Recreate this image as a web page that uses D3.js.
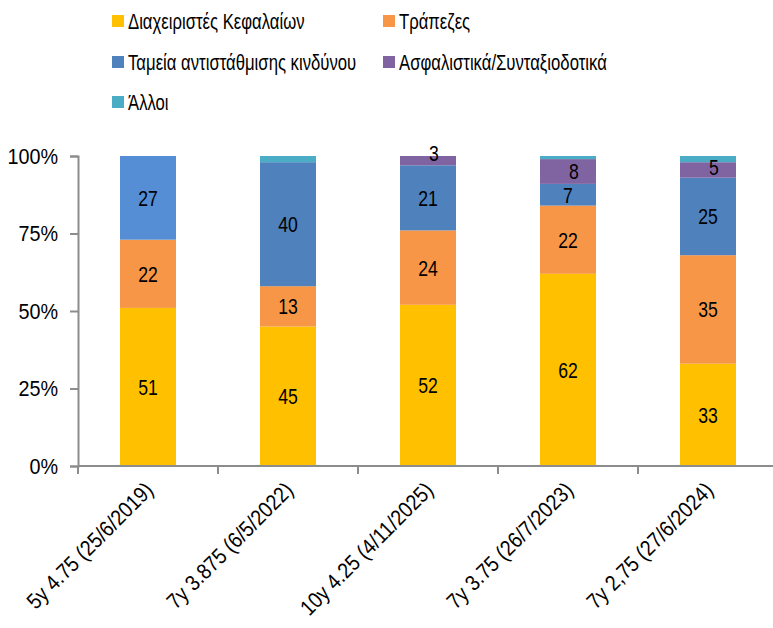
<!DOCTYPE html>
<html>
<head>
<meta charset="utf-8">
<script src="https://cdn.jsdelivr.net/npm/d3@7"></script>
<style>
  html, body { margin: 0; padding: 0; background: #fff; }
  svg { display: block; font-family: "Liberation Sans", Arial, sans-serif; }
</style>
</head>
<body>
<svg id="chart" width="773" height="628"></svg>
<script>
// Bond issues (x-axis categories)
const issues = [
  "5y 4.75 (25/6/2019)",
  "7y 3.875 (6/5/2022)",
  "10y 4.25 (4/11/2025)",
  "7y 3.75 (26/7/2023)",
  "7y 2,75 (27/6/2024)"
];

// Investor groups, in stacking order (bottom to top)
const investorGroups = [
  "Διαχειριστές Κεφαλαίων",
  "Τράπεζες",
  "Ταμεία αντιστάθμισης κινδύνου",
  "Ασφαλιστικά/Συνταξιοδοτικά",
  "Άλλοι"
];

// Allocation per group (%), one value per issue
const assetManagers = [51, 45, 52, 62, 33];
const banks         = [22, 13, 24, 22, 35];
const hedgeFunds    = [27, 40, 21, 7, 25];
const insurance     = [0, 0, 3, 8, 5];
const others        = [0, 2, 0, 1, 2];

const yTicks = [0, 25, 50, 75, 100];

const seriesValues = [assetManagers, banks, hedgeFunds, insurance, others];
const colors = ["#FFC000", "#F79646", "#4F81BD", "#8064A2", "#4BACC6"];

const rows = issues.map((name, i) => {
  const r = { issue: name };
  investorGroups.forEach((g, k) => { r[g] = seriesValues[k][i]; });
  return r;
});

const stacked = d3.stack().keys(investorGroups)(rows);

const svg = d3.select("#chart");
const margin = { left: 78, right: -5, top: 156, bottom: 162 };
const W = 773, H = 628;
const FONT = 22;

// Condensed text: glyphs are squeezed horizontally inside a positioned group
function condensedText(sel, sx) {
  return sel.append("text").attr("transform", `scale(${sx},1)`);
}

const x = d3.scaleBand()
  .domain(issues)
  .range([margin.left, W - margin.right])
  .paddingInner(0.6)
  .paddingOuter(0.3);

const xBound = d3.scalePoint().domain(d3.range(issues.length + 1)).range([margin.left, W - margin.right]);

const y = d3.scaleLinear().domain([0, 100]).range([H - margin.bottom, margin.top]);

// Bars
const layer = svg.append("g").selectAll("g")
  .data(stacked)
  .join("g")
  .attr("fill", (d, k) => colors[k]);

layer.selectAll("rect")
  .data((d, k) => d.map(p => ({ p, k })))
  .join("rect")
  .attr("x", d => x(d.p.data.issue))
  .attr("width", x.bandwidth())
  .attr("y", d => y(d.p[1]))
  .attr("height", d => y(d.p[0]) - y(d.p[1]))
  // first issue's hedge-fund slice uses a lighter blue
  .attr("fill", d => (d.k === 2 && d.p.data.issue === issues[0]) ? "#558ED5" : null);

// Value labels
const labels = [];
stacked.forEach((s, k) => {
  s.forEach(p => {
    const v = p[1] - p[0];
    if (k < 4 && v > 0) labels.push({ v, issue: p.data.issue, mid: (p[0] + p[1]) / 2, k });
  });
});

const lbl = svg.append("g").selectAll("g")
  .data(labels)
  .join("g")
  .attr("transform", d => {
    const cx = x(d.issue) + x.bandwidth() / 2 + (d.k === 3 ? 6 : 0);
    const cy = d.v <= 3 ? y(d.mid) - 8 : (d.v <= 5 ? y(d.mid) - 3 : y(d.mid));
    return `translate(${cx},${cy})`;
  });
condensedText(lbl, 0.8)
  .attr("dy", "0.36em")
  .attr("text-anchor", "middle")
  .attr("font-size", FONT)
  .attr("fill", "#000")
  .text(d => d.v);

// Axes
const axisColor = "#8c8c8c";
const gx = svg.append("g").attr("transform", `translate(0,${y(0)})`);
gx.append("line")
  .attr("x1", margin.left).attr("x2", W)
  .attr("stroke", axisColor).attr("stroke-width", 2);
gx.selectAll(".tk")
  .data(d3.range(issues.length + 1))
  .join("line")
  .attr("x1", d => xBound(d)).attr("x2", d => xBound(d))
  .attr("y1", 0).attr("y2", 8)
  .attr("stroke", axisColor).attr("stroke-width", 2);

const xl = gx.selectAll(".xl")
  .data(issues)
  .join("g")
  .attr("transform", d => `translate(${x(d) + x.bandwidth() / 2 + 1},${20}) rotate(-45)`);
condensedText(xl, 0.88)
  .attr("text-anchor", "end")
  .attr("dy", "0.35em")
  .attr("font-size", FONT)
  .attr("fill", "#000")
  .text(d => d);

const yAxis = d3.axisLeft(y).tickValues(yTicks).tickFormat(d => d + "%").tickSize(8).tickPadding(12);
const gy = svg.append("g").attr("transform", `translate(${margin.left},0)`).call(yAxis);
gy.attr("font-family", null).attr("font-size", null);
gy.select(".domain").attr("stroke", axisColor).attr("stroke-width", 2);
gy.selectAll(".tick line").attr("stroke", axisColor).attr("stroke-width", 2);
const TSX = 0.9;
gy.selectAll(".tick text")
  .attr("font-size", FONT)
  .attr("fill", "#000")
  .attr("x", -20 / TSX)
  .attr("transform", `scale(${TSX},1)`);

// Legend
const legendPos = [
  [112, 21], [383, 21],
  [112, 62], [383, 62],
  [112, 102]
];
const lg = svg.append("g").selectAll("g")
  .data(investorGroups)
  .join("g")
  .attr("transform", (d, i) => `translate(${legendPos[i][0]},${legendPos[i][1]})`);
lg.append("rect")
  .attr("x", 0).attr("y", -6).attr("width", 12).attr("height", 12)
  .attr("fill", (d, i) => colors[i]);
const LSX = 0.76;
condensedText(lg, LSX)
  .attr("x", 16 / LSX).attr("dy", "0.36em")
  .attr("font-size", FONT)
  .attr("fill", "#000")
  .text(d => d);
</script>
</body>
</html>
